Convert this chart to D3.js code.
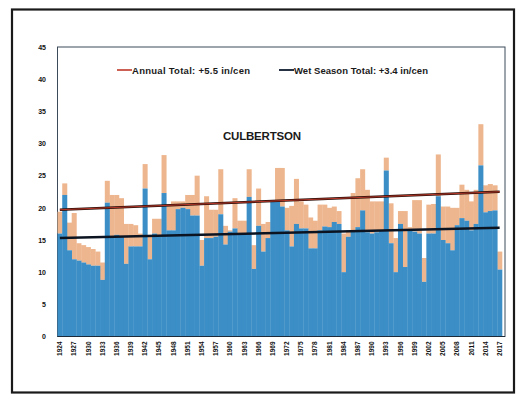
<!DOCTYPE html>
<html><head><meta charset="utf-8">
<script src="https://cdn.jsdelivr.net/npm/d3@7"></script>
<style>html,body{margin:0;padding:0;background:#fff;}svg{display:block;}</style>
</head><body>
<svg id="c" width="516" height="396"></svg>
<script>
const firstYear = 1924, lastYear = 2017;
const years = d3.range(firstYear, lastYear + 1);
const annualTotal = [19.4,23.8,17.7,19.2,14.5,14.2,13.9,13.6,13.2,11.5,
 24.2,22.0,22.0,21.5,17.5,17.5,17.3,16.0,26.8,15.5,
 18.3,18.3,28.2,20.5,21.0,21.0,21.0,22.0,22.0,25.0,
 15.0,21.8,19.7,19.7,26.0,17.2,16.5,21.5,18.0,18.0,
 26.0,14.2,23.0,17.5,17.8,21.0,26.2,26.2,20.0,20.3,
 24.5,21.0,20.5,18.5,18.0,20.5,20.5,20.0,20.2,19.5,
 16.0,16.5,22.3,24.6,26.0,22.8,21.0,21.0,21.0,27.8,
 20.7,15.3,19.5,19.5,17.0,21.2,21.2,12.2,20.5,20.6,
 28.3,20.2,20.2,20.0,20.0,23.6,22.8,21.0,22.8,33.0,
 23.5,23.7,23.5,13.2];
const wetSeason = [16.0,22.0,13.4,12.0,11.8,11.5,11.2,11.0,11.0,8.8,
 20.8,15.5,15.8,15.5,11.3,14.0,14.0,14.0,23.0,12.0,
 16.0,15.5,22.3,16.5,16.5,19.8,20.0,19.8,18.8,18.8,
 11.0,15.3,15.3,15.5,19.0,14.3,16.3,16.8,16.0,15.8,
 21.7,10.5,17.2,13.2,15.3,21.0,21.0,20.2,16.5,14.0,
 17.5,16.8,16.8,13.7,13.7,16.5,17.1,17.0,17.8,17.5,
 10.0,15.5,16.5,17.0,19.6,16.2,16.0,16.2,16.5,25.8,
 14.5,10.0,17.5,10.8,16.5,16.3,16.0,8.5,16.0,16.0,
 21.8,15.0,14.5,13.4,17.3,18.4,18.0,16.5,17.5,26.6,
 19.3,19.5,19.6,10.4];
const annualTrend = [19.7, 22.5];
const wetTrend = [15.3, 16.9];
const yTicks = [0,5,10,15,20,25,30,35,40,45];
const labelStep = 3;
const legendLabels = ["Annual Total: +5.5 in/cen", "Wet Season Total: +3.4 in/cen"];
const title = "CULBERTSON";

const svg = d3.select("#c");
const L = 57.5, R = 502, T = 47, B = 336.5;

// outer frame
svg.append("rect").attr("x",12).attr("y",9.5).attr("width",502).attr("height",383)
  .attr("fill","#fff").attr("stroke","#1a1a1a").attr("stroke-width",2.2);

const x = d3.scaleBand().domain(years).range([L, R]).padding(0);
const y = d3.scaleLinear().domain([0,45]).range([B, T]);

// plot area border
svg.append("rect").attr("x",L).attr("y",T).attr("width",505-L).attr("height",B-T)
  .attr("fill","none").attr("stroke","#3c4a5a").attr("stroke-width",1);

const data = years.map((yr,i)=>({yr, tot:annualTotal[i], wet:wetSeason[i]}));
svg.append("g").selectAll("rect").data(data).join("rect")
  .attr("x", d=>x(d.yr)).attr("width", x.bandwidth()+0.3)
  .attr("y", d=>y(d.tot)).attr("height", d=>y(d.wet)-y(d.tot))
  .attr("fill","#eeb68e");
svg.append("g").selectAll("rect").data(data).join("rect")
  .attr("x", d=>x(d.yr)).attr("width", x.bandwidth()+0.3)
  .attr("y", d=>y(d.wet)).attr("height", d=>y(0)-y(d.wet))
  .attr("fill","#3b8ec6");

// trend lines
const xs = [x(firstYear)+x.bandwidth()/2, x(lastYear)+x.bandwidth()/2];
svg.append("line").attr("x1",xs[0]).attr("x2",xs[1])
  .attr("y1",y(annualTrend[0])).attr("y2",y(annualTrend[1]))
  .attr("stroke","#2a0e08").attr("stroke-width",2.4);
svg.append("line").attr("x1",xs[0]).attr("x2",xs[1])
  .attr("y1",y(annualTrend[0])).attr("y2",y(annualTrend[1]))
  .attr("stroke","#b8382a").attr("stroke-width",1);
svg.append("line").attr("x1",xs[0]).attr("x2",xs[1])
  .attr("y1",y(wetTrend[0])).attr("y2",y(wetTrend[1]))
  .attr("stroke","#0c1422").attr("stroke-width",2.4);

// x axis line
svg.append("line").attr("x1",L).attr("x2",505).attr("y1",B).attr("y2",B)
  .attr("stroke","#1c2a3a").attr("stroke-width",1.2);

// y axis
const yAxis = d3.axisLeft(y).tickValues(yTicks).tickSize(0).tickPadding(0);
const gy = svg.append("g").attr("transform",`translate(${46},0)`).call(yAxis);
gy.select(".domain").remove();
gy.selectAll("text").attr("font-family","'Liberation Sans Narrow','Liberation Sans',sans-serif")
  .attr("font-weight","bold").attr("font-size",7).attr("fill","#111");

// x axis labels
const tickYears = years.filter((d,i)=>i%labelStep===0);
const xAxis = d3.axisBottom(x).tickValues(tickYears).tickSize(0).tickPadding(0);
const gx = svg.append("g").attr("transform",`translate(0,${B+4})`).call(xAxis);
gx.select(".domain").remove();
gx.selectAll("text").attr("font-family","'Liberation Sans Narrow','Liberation Sans',sans-serif")
  .attr("font-weight","bold").attr("font-size",6.5).attr("fill","#111")
  .attr("transform","rotate(-90)").attr("text-anchor","end")
  .attr("x",-1).attr("y",0).attr("dy","0.35em");

// legend
const lg = svg.append("g").attr("font-family","'Liberation Sans Narrow','Liberation Sans',sans-serif")
  .attr("font-weight","bold").attr("font-size",9.5).attr("fill","#1a1a1a");
lg.append("line").attr("x1",117).attr("x2",132).attr("y1",70).attr("y2",70)
  .attr("stroke","#c0392b").attr("stroke-width",1.6);
lg.append("text").attr("x",132).attr("y",73.5).attr("textLength",118).text(legendLabels[0]);
lg.append("line").attr("x1",279).attr("x2",294).attr("y1",70).attr("y2",70)
  .attr("stroke","#0e1a2e").attr("stroke-width",1.8);
lg.append("text").attr("x",294).attr("y",73.5).attr("textLength",134).text(legendLabels[1]);

svg.append("text").attr("x",262).attr("y",140).attr("text-anchor","middle")
  .attr("font-family","'Liberation Sans Narrow','Liberation Sans',sans-serif")
  .attr("font-weight","bold").attr("font-size",11.5).attr("fill","#1a1a1a")
  .attr("textLength",78).text(title);
</script>
</body></html>
